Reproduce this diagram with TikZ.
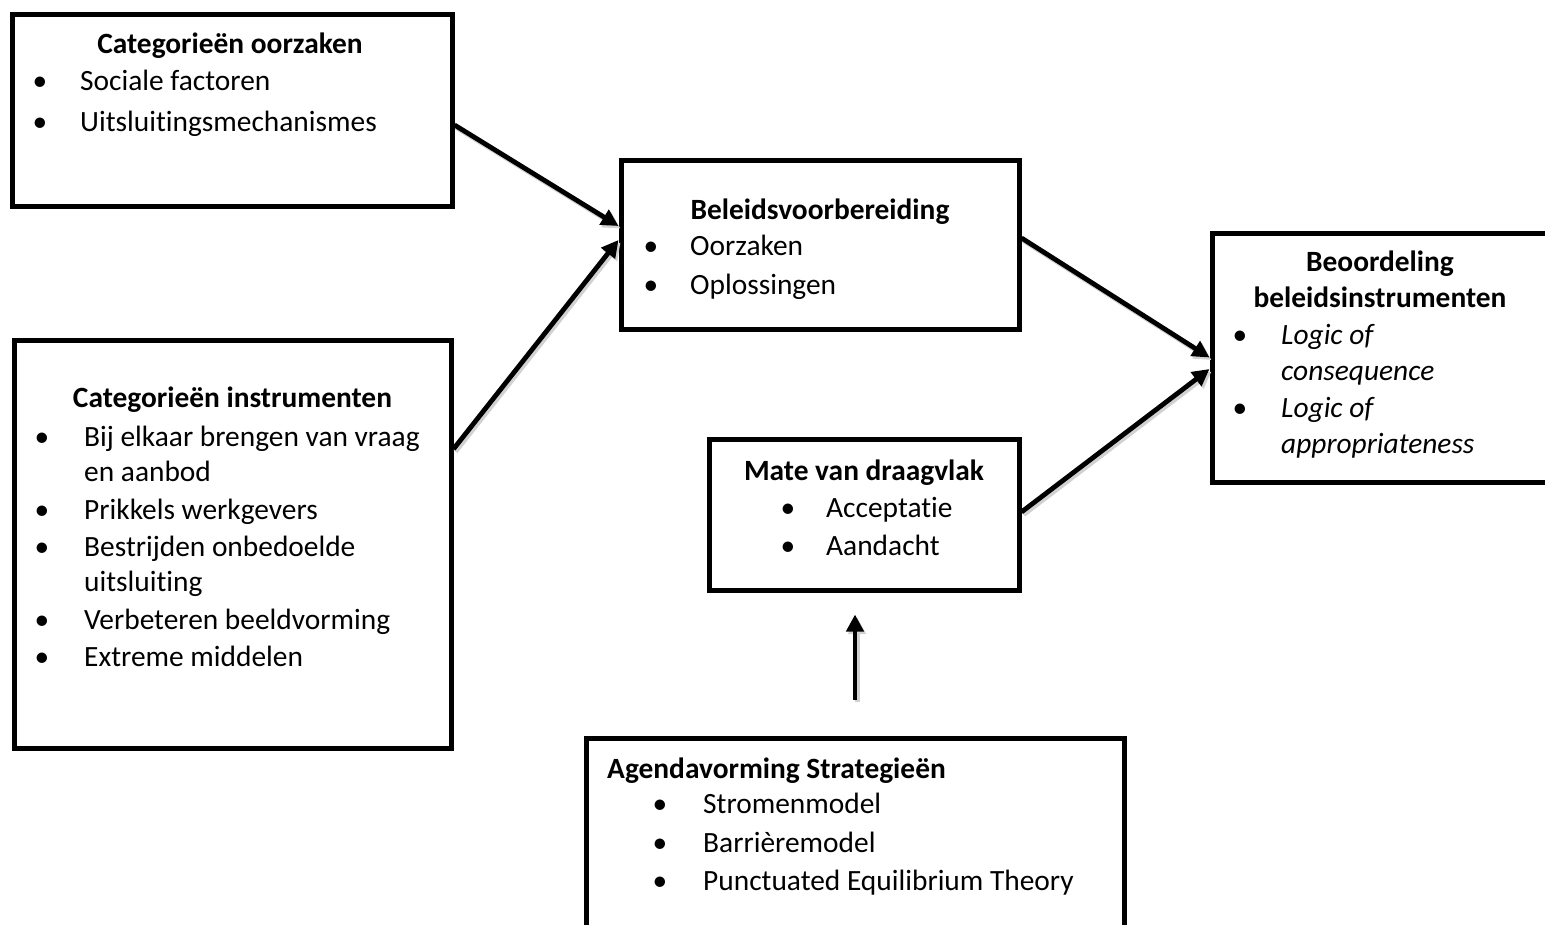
\documentclass[tikz,border=0pt]{standalone}
\usepackage{fontspec}
\setmainfont{Carlito}[RawFeature=-liga]
\usetikzlibrary{arrows.meta,calc}
\begin{document}
\begin{tikzpicture}[x=1pt,y=-1pt,
  box/.style={draw=black,line width=5pt,rectangle,inner sep=0pt},
  txt/.style={anchor=base west,inner sep=0pt,font=\fontsize{29.4}{37}\selectfont},
  ttl/.style={anchor=base,inner sep=0pt,font=\fontsize{29.4}{37}\selectfont\bfseries},
  bul/.style={anchor=base,inner sep=0pt,font=\fontsize{29.4}{37}\selectfont},
  conn/.style={line width=4.8pt,-{Triangle[length=17pt,width=17pt]}},
  shd/.style={line width=5pt,black!18,-{Triangle[length=17pt,width=17pt]},transform canvas={shift={(2pt,-2.5pt)}}}
]
\useasboundingbox (0,0) rectangle (1545,924);
\clip (0,0) rectangle (1545,924);
\fill[white] (0,0) rectangle (1545,924);

% boxes
\node[box,minimum width=440pt,minimum height=192pt] (A) at (232,110) {};
\node[box,minimum width=437pt,minimum height=408pt] (B) at (232.5,544) {};
\node[box,minimum width=398pt,minimum height=169pt] (C) at (820,244.5) {};
\node[box,minimum width=310pt,minimum height=151pt] (D) at (864,514.5) {};
\node[box,minimum width=348pt,minimum height=249pt] (E) at (1386,357.5) {};
\node[box,minimum width=538pt,minimum height=202pt] (F) at (855,839) {};

% box A
\node[ttl] (tA) at (230,53) {Categorieën oorzaken};
\node[bul] (bA1) at (40,90) {\textbullet};
\node[txt] (a1) at (80,90) {Sociale factoren};
\node[bul] (bA2) at (40,131) {\textbullet};
\node[txt] (a2) at (80,131) {Uitsluitingsmechanismes};

% box B
\node[ttl] (tB) at (232.5,407) {Categorieën instrumenten};
\node[bul] (bB1) at (42,446) {\textbullet};
\node[txt] (b1) at (84,446) {Bij elkaar brengen van vraag};
\node[txt] (b1b) at (84,481) {en aanbod};
\node[bul] (bB2) at (42,519) {\textbullet};
\node[txt] (b2) at (84,519) {Prikkels werkgevers};
\node[bul] (bB3) at (42,556) {\textbullet};
\node[txt] (b3) at (84,556) {Bestrijden onbedoelde};
\node[txt] (b3b) at (84,591) {uitsluiting};
\node[bul] (bB4) at (42,629) {\textbullet};
\node[txt] (b4) at (84,629) {Verbeteren beeldvorming};
\node[bul] (bB5) at (42,666) {\textbullet};
\node[txt] (b5) at (84,666) {Extreme middelen};

% box C
\node[ttl] (tC) at (820,219) {Beleidsvoorbereiding};
\node[bul] (bC1) at (651,255) {\textbullet};
\node[txt] (c1) at (690,255) {Oorzaken};
\node[bul] (bC2) at (651,294) {\textbullet};
\node[txt] (c2) at (690,294) {Oplossingen};

% box D
\node[ttl] (tD) at (864,480) {Mate van draagvlak};
\node[bul] (bD1) at (788,517) {\textbullet};
\node[txt] (d1) at (826,517) {Acceptatie};
\node[bul] (bD2) at (788,555) {\textbullet};
\node[txt] (d2) at (826,555) {Aandacht};

% box E
\node[ttl] (tE1) at (1380,271) {Beoordeling};
\node[ttl] (tE2) at (1380,307) {beleidsinstrumenten};
\node[bul] (bE1) at (1240,344) {\textbullet};
\node[txt] (e1) at (1281,344) {\itshape Logic of};
\node[txt] (e1b) at (1281,380) {\itshape consequence};
\node[bul] (bE2) at (1240,417) {\textbullet};
\node[txt] (e2) at (1281,417) {\itshape Logic of};
\node[txt] (e2b) at (1281,453) {\itshape appropriateness};

% box F
\node[ttl,anchor=base west] (tF) at (607,778) {Agendavorming Strategieën};
\node[bul] (bF1) at (660,813) {\textbullet};
\node[txt] (f1) at (703,813) {Stromenmodel};
\node[bul] (bF2) at (660,852) {\textbullet};
\node[txt] (f2) at (703,852) {Barrièremodel};
\node[bul] (bF3) at (660,890) {\textbullet};
\node[txt] (f3) at (703,890) {Punctuated Equilibrium Theory};

% connector end points
\coordinate (fs) at ([yshift=36pt]F.north);
\path (fs |- D.south) ++(0,22) coordinate (de);

% shadows
\draw[shd] ([yshift=-15pt]A.east) -- ([yshift=18.5pt]C.west);
\draw[shd] ([yshift=95pt]B.east) -- ([yshift=4.5pt]C.west);
\draw[shd] ([yshift=6.5pt]C.east) -- (E.west);
\draw[shd] ([yshift=2.5pt]D.east) -- ([yshift=-11.5pt]E.west);
\draw[shd] (fs) -- (de);

% connectors
\draw[conn] ([yshift=-15pt]A.east) -- ([yshift=18.5pt]C.west);
\draw[conn] ([yshift=95pt]B.east) -- ([yshift=4.5pt]C.west);
\draw[conn] ([yshift=6.5pt]C.east) -- (E.west);
\draw[conn] ([yshift=2.5pt]D.east) -- ([yshift=-11.5pt]E.west);
\draw[conn] (fs) -- (de);
\end{tikzpicture}
\end{document}
